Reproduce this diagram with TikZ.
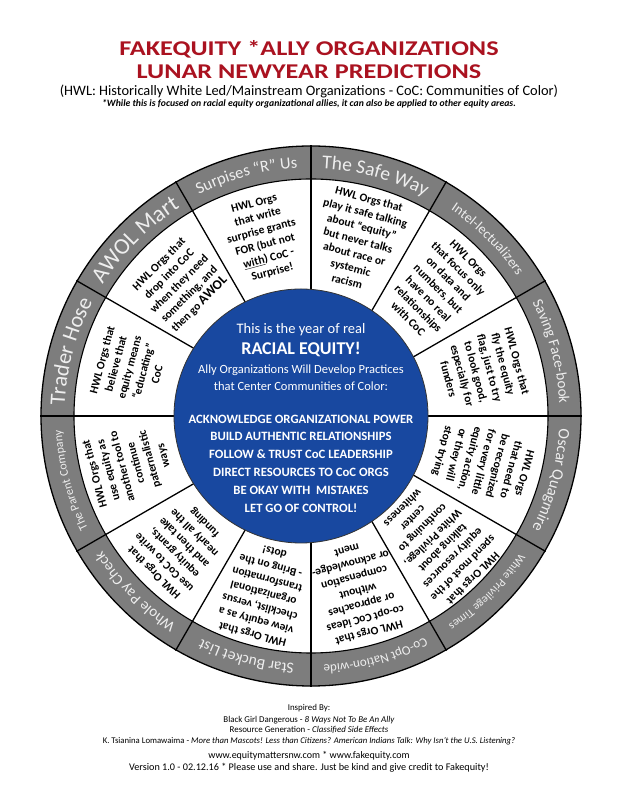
\documentclass[tikz,border=0pt]{standalone}
\usepackage{fontspec}
\setmainfont{Carlito}
\newfontfamily\headfont[FakeStretch=1.25]{Carlito}
\usetikzlibrary{decorations.text}
\definecolor{titlered}{RGB}{170,18,32}
\definecolor{rimgray}{RGB}{125,125,125}
\definecolor{rimtext}{RGB}{238,238,238}
\definecolor{eqblue}{RGB}{24,72,160}
% label on the grey rim: mid angle, font size, text
\newcommand{\rimlabel}[3]{%
  \pgfmathsetmacro{\rimr}{253.5-0.322*#2}%
  \path[decorate, decoration={text along path, text align=center,
      text={|\fontsize{#2}{#2}\selectfont\color{rimtext}|#3}}]
    ({#1+15}:\rimr pt) arc[start angle={#1+15}, end angle={#1-15}, radius=\rimr pt];}
\begin{document}
\begin{tikzpicture}[x=1pt,y=1pt,
  head/.style={anchor=base, text=titlered, font=\headfont\bfseries\fontsize{21}{21}\selectfont},
  seg/.style={align=center, inner sep=0pt, font=\bfseries\fontsize{11.5}{14.2}\selectfont},
  core/.style={anchor=base, text=white, inner sep=0pt},
  foot/.style={anchor=base, inner sep=0pt, font=\fontsize{8.9}{8.9}\selectfont}]
\useasboundingbox (0,0) rectangle (618,800);
% heading
\node[head] (title1) at (309,744) {FAKEQUITY *ALLY ORGANIZATIONS};
\node[head] (title2) at (309,721) {LUNAR NEWYEAR PREDICTIONS};
\node[anchor=base, font=\fontsize{14.4}{14.4}\selectfont] (key) at (309,704.3)
  {(HWL: Historically White Led/Mainstream Organizations - CoC: Communities of Color)};
\node[anchor=base, font=\bfseries\itshape\fontsize{9.7}{9.7}\selectfont] (note) at (309,693.5)
  {*While this is focused on racial equity organizational allies, it can also be applied to other equity areas.};
% the wheel
\begin{scope}[shift={(311,384)}]
  \fill[rimgray] (0,0) circle (270pt);
  \fill[white] (0,0) circle (237pt);
  \foreach \a in {0,30,...,330}
    \draw[line width=1.3pt] (\a:100pt) -- (\a:271pt);
  \draw[line width=1.3pt] (0,0) circle (270pt);
  \draw[line width=1.1pt] (0,0) circle (237pt);
  \filldraw[fill=eqblue, draw=black!80, line width=0.8pt] (-10pt,0) circle (127pt);
  \rimlabel{105}{16.5}{Surpises “R” Us}
  \rimlabel{75}{19.5}{The Safe Way}
  \rimlabel{45}{14}{Intel-lectualizers}
  \rimlabel{15}{15}{Saving Face-book}
  \rimlabel{-15}{16}{Oscar Quagmire}
  \rimlabel{-45}{11.5}{White Privilege Times}
  \rimlabel{-75}{13}{Co-Opt Nation-wide}
  \rimlabel{-105}{15.5}{Star Bucket List}
  \rimlabel{-135}{15}{Whole Pay Check}
  \rimlabel{195}{12}{The Parent Company}
  \rimlabel{165}{22}{Trader Hose}
  \rimlabel{135}{23}{AWOL Mart}
  \node[seg, rotate=15] (surprise) at (105:184pt)
    {HWL Orgs\\that write\\surprise grants\\FOR (but not\\\underline{with}) CoC -\\Surprise!};
  \node[seg, rotate=-15] (safe) at (75:182pt)
    {HWL Orgs that\\play it safe talking\\about “equity”\\but never talks\\about race or\\systemic\\racism};
  \node[seg, rotate=-45] (intel) at (45:180pt)
    {HWL Orgs\\that focus only\\on data and\\numbers, but\\have no real\\relationships\\with CoC};
  \node[seg, rotate=-75] (face) at (15:178pt)
    {HWL Orgs that\\fly the equity\\flag, just to try\\to look good,\\especially for\\funders};
  \node[seg, rotate=-105] (oscar) at (-15:178pt)
    {HWL Orgs\\that need to\\be recognized\\for every little\\equity action,\\or they will\\stop trying};
  \node[seg, rotate=-135] (privilege) at (-45:180pt)
    {HWL Orgs that\\spend most of the\\equity resources\\talking about\\White Privilege,\\continuing to\\center\\whiteness};
  \node[seg, rotate=-165] (coopt) at (-75:182pt)
    {HWL Orgs that\\co-opt CoC ideas\\or approaches\\without\\compensation\\or acknowledge-\\ment};
  \node[seg, rotate=165] (bucket) at (-105:184pt)
    {HWL Orgs that\\view equity as a\\checklist, versus\\organizational\\transformation\\- Bring on the\\dots!};
  \node[seg, rotate=135] (paycheck) at (-135:186pt)
    {HWL Orgs that\\use CoC to write\\equity grants,\\and then take\\nearly all the\\funding};
  \node[seg, rotate=105] (parent) at (195:188pt)
    {HWL Orgs that\\use equity as\\another tool to\\continue\\paternalistic\\ways};
  \node[seg, rotate=75] (trader) at (165:188pt)
    {HWL Orgs that\\believe that\\equity means\\“educating”\\CoC};
  \node[seg, rotate=45] (awol) at (135:186pt)
    {HWL Orgs that\\drop into CoC\\when they need\\something, and\\then go {\fontsize{13.5}{14.2}\selectfont AWOL}};
\end{scope}
% centre of the wheel
\node[core, font=\fontsize{14.5}{14.5}\selectfont] (year) at (301,466.7) {This is the year of real};
\node[core, font=\bfseries\fontsize{18}{18}\selectfont] (racial) at (301,445) {RACIAL EQUITY!};
\node[core, font=\fontsize{12.5}{12.5}\selectfont] (ally) at (301,426) {Ally Organizations Will Develop Practices};
\node[core, font=\fontsize{12.5}{12.5}\selectfont] (center) at (301,409.3) {that Center Communities of Color:};
\node[core, font=\bfseries\fontsize{12.7}{12.7}\selectfont] (power) at (301,376.7) {ACKNOWLEDGE ORGANIZATIONAL POWER};
\node[core, font=\bfseries\fontsize{12.7}{12.7}\selectfont] (build) at (301,359) {BUILD AUTHENTIC RELATIONSHIPS};
\node[core, font=\bfseries\fontsize{12.7}{12.7}\selectfont] (follow) at (301,341.3) {FOLLOW \& TRUST CoC LEADERSHIP};
\node[core, font=\bfseries\fontsize{12.7}{12.7}\selectfont] (direct) at (301,323.3) {DIRECT RESOURCES TO CoC ORGS};
\node[core, font=\bfseries\fontsize{12.7}{12.7}\selectfont] (okay) at (301,305.3) {BE OKAY WITH \ MISTAKES};
\node[core, font=\bfseries\fontsize{12.7}{12.7}\selectfont] (control) at (301,287.7) {LET GO OF CONTROL!};
% credits
\node[foot] (inspired) at (309,89.3) {Inspired By:};
\node[foot] (bgd) at (309,77.5) {Black Girl Dangerous - \textit{8 Ways Not To Be An Ally}};
\node[foot] (rg) at (309,67.3) {Resource Generation - \textit{Classified Side Effects}};
\node[foot, font=\fontsize{8.7}{8.7}\selectfont] (kt) at (309,56.8) {K. Tsianina Lomawaima - \textit{More than Mascots! Less than Citizens? American Indians Talk: Why Isn't the U.S. Listening?}};
\node[foot, font=\fontsize{10}{10}\selectfont] (web) at (309,41.7) {www.equitymattersnw.com * www.fakequity.com};
\node[foot, font=\fontsize{10.2}{10.2}\selectfont] (version) at (309,29.3) {Version 1.0 - 02.12.16 * Please use and share. Just be kind and give credit to Fakequity!};
\end{tikzpicture}
\end{document}
